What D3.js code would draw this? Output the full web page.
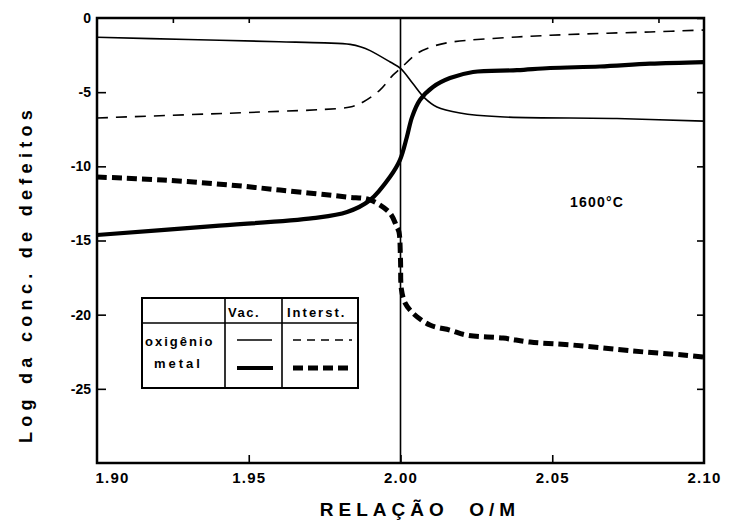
<!DOCTYPE html>
<html>
<head>
<meta charset="utf-8">
<script src="https://cdn.jsdelivr.net/npm/d3@7/dist/d3.min.js"></script>
<style>
  html, body { margin: 0; padding: 0; background: #fff; }
  svg { display: block; }
  text { font-family: "Liberation Sans", "DejaVu Sans", sans-serif; font-weight: bold; fill: #000; }
</style>
</head>
<body>
<svg id="chart" width="732" height="523"></svg>
<script>
// Defect concentrations (log) vs O/M ratio at 1600 °C
const oxVacX = [1.90, 1.93, 1.96, 1.975, 1.9834, 1.987, 1.990, 1.9966, 2.000, 2.004, 2.008, 2.012, 2.0196, 2.0328, 2.0713, 2.10];
const oxVacY = [-1.30, -1.45, -1.60, -1.68, -1.78, -1.95, -2.20, -2.97, -3.40, -4.40, -5.40, -6.00, -6.40, -6.66, -6.78, -6.95];

const oxIntX = [1.90, 1.9537, 1.975, 1.9834, 1.9877, 1.9932, 1.9975, 2.000, 2.0054, 2.0097, 2.0163, 2.0384, 2.0601, 2.0822, 2.10];
const oxIntY = [-6.74, -6.34, -6.16, -6.00, -5.66, -4.86, -3.85, -3.40, -2.40, -1.98, -1.64, -1.28, -1.08, -0.94, -0.81];

const meVacX = [1.90, 1.9382, 1.9712, 1.9824, 1.990, 1.9965, 1.9998, 2.0021, 2.0038, 2.0064, 2.0107, 2.0163, 2.0239, 2.0384, 2.0493, 2.0657, 2.0822, 2.10];
const meVacY = [-14.63, -14.03, -13.49, -13.08, -12.27, -10.72, -9.58, -8.02, -6.68, -5.53, -4.65, -4.05, -3.64, -3.52, -3.37, -3.27, -3.08, -2.97];

const meIntX = [1.90, 1.9217, 1.9438, 1.9603, 1.9824, 1.990, 1.9965, 1.9988, 1.9995, 2.0000, 2.0003, 2.0015, 2.0041, 2.0097, 2.0163, 2.0219, 2.0338, 2.0427, 2.0568, 2.0766, 2.0931, 2.10];
const meIntY = [-10.72, -10.92, -11.26, -11.60, -12.07, -12.27, -13.15, -14.09, -14.43, -16.30, -18.30, -19.20, -19.90, -20.70, -21.04, -21.38, -21.58, -21.85, -22.05, -22.45, -22.72, -22.86];

const xTicks = [1.90, 1.95, 2.00, 2.05, 2.10];
const xTickLabels = ["1.90", "1.95", "2.00", "2.05", "2.10"];
const yTicks = [0, -5, -10, -15, -20, -25];
const yTickLabels = ["0", "-5", "-10", "-15", "-20", "-25"];

const legendRows = ["oxigênio", "metal"];
const legendCols = ["Vac.", "Interst."];

const svg = d3.select("#chart");
const L = 97, R = 704, T = 18, B = 463;

const x = d3.scaleLinear().domain([1.90, 2.10]).range([L, R]);
const y = d3.scaleLinear().domain([-30, 0]).range([B, T]);

const line = d3.line().x(d => x(d[0])).y(d => y(d[1])).curve(d3.curveCatmullRom.alpha(0.5));
const zip = (a, b) => a.map((v, i) => [v, b[i]]);

const styles = {
  oxVac: { w: 1.6, dash: null },
  oxInt: { w: 1.6, dash: "11,8" },
  meVac: { w: 4.2, dash: null },
  meInt: { w: 5, dash: "10,5" }
};

// frame
svg.append("rect").attr("x", L).attr("y", T).attr("width", R - L).attr("height", B - T)
  .attr("fill", "none").attr("stroke", "#000").attr("stroke-width", 2.5);

// stoichiometric line at O/M = 2.00
svg.append("line").attr("x1", x(2.00)).attr("x2", x(2.00)).attr("y1", T).attr("y2", B)
  .attr("stroke", "#000").attr("stroke-width", 1.6);

// axes with inward ticks
const gx = svg.append("g").attr("transform", `translate(0,${B})`)
  .call(d3.axisBottom(x).tickValues(xTicks).tickSize(-8).tickPadding(9)
    .tickFormat((d, i) => xTickLabels[i]));
const gy = svg.append("g").attr("transform", `translate(${L},0)`)
  .call(d3.axisLeft(y).tickValues(yTicks).tickSize(-9).tickPadding(6)
    .tickFormat((d, i) => yTickLabels[i]));
const gr = svg.append("g").attr("transform", `translate(${R},0)`)
  .call(d3.axisRight(y).tickValues(yTicks).tickSize(-7).tickFormat(""));
const gt = svg.append("g").attr("transform", `translate(0,${T})`)
  .call(d3.axisTop(x).tickValues([1.925, 1.95, 2.05, 2.085]).tickSize(-5).tickFormat(""));

[gx, gy, gr, gt].forEach(g => {
  g.select(".domain").remove();
  g.selectAll(".tick line").attr("stroke", "#000").attr("stroke-width", 1.6);
  g.selectAll(".tick text").attr("font-size", 14).attr("font-family", "Liberation Sans, sans-serif")
    .attr("font-weight", "bold").attr("fill", "#000");
});
gx.selectAll(".tick text").attr("font-size", 15).attr("letter-spacing", 1.2);
gx.selectAll(".tick").filter(d => d === 1.90 || d === 2.10).select("line").remove();
gx.selectAll(".tick text").filter(d => d === 1.90).attr("text-anchor", "start").attr("dx", -2);
gy.selectAll(".tick").filter(d => d === 0).select("line").remove();

// curves
const series = [
  [zip(oxVacX, oxVacY), styles.oxVac],
  [zip(oxIntX, oxIntY), styles.oxInt],
  [zip(meVacX, meVacY), styles.meVac],
  [zip(meIntX, meIntY), styles.meInt]
];
series.forEach(([pts, st]) => {
  svg.append("path").attr("d", line(pts)).attr("fill", "none").attr("stroke", "#000")
    .attr("stroke-width", st.w).attr("stroke-dasharray", st.dash)
    .attr("stroke-linejoin", "round");
});

// temperature label
svg.append("text").attr("x", 597).attr("y", 207).attr("text-anchor", "middle")
  .attr("font-size", 14).attr("letter-spacing", 1.2).text("1600°C");

// axis titles
svg.append("text").attr("x", 420).attr("y", 516).attr("text-anchor", "middle")
  .attr("font-size", 19).attr("letter-spacing", 5).style("white-space", "pre")
  .text("RELAÇÃO  O/M");
svg.append("text").attr("transform", "translate(32,274) rotate(-90)").attr("text-anchor", "middle")
  .attr("font-size", 18).attr("letter-spacing", 5.3).text("Log da conc. de defeitos");

// legend table
const lg = svg.append("g");
const tx0 = 142, tx1 = 225, tx2 = 282, tx3 = 358, ty0 = 298, ty1 = 323, ty2 = 388;
lg.append("rect").attr("x", tx0).attr("y", ty0).attr("width", tx3 - tx0).attr("height", ty2 - ty0)
  .attr("fill", "#fff").attr("stroke", "#000").attr("stroke-width", 2);
[[tx0, ty1, tx3, ty1], [tx1, ty0, tx1, ty2], [tx2, ty0, tx2, ty2]].forEach(s =>
  lg.append("line").attr("x1", s[0]).attr("y1", s[1]).attr("x2", s[2]).attr("y2", s[3])
    .attr("stroke", "#000").attr("stroke-width", 1.6));
lg.append("text").attr("x", tx1 + 3).attr("y", 317).attr("font-size", 13).attr("letter-spacing", 1.5).text(legendCols[0]);
lg.append("text").attr("x", tx2 + 5).attr("y", 317).attr("font-size", 13).attr("letter-spacing", 2).text(legendCols[1]);
lg.append("text").attr("x", tx0 + 3).attr("y", 346).attr("font-size", 13).attr("letter-spacing", 2).text(legendRows[0]);
lg.append("text").attr("x", tx0 + 12).attr("y", 368).attr("font-size", 13).attr("letter-spacing", 3).text(legendRows[1]);
const sample = (x1, x2, yy, st) => lg.append("line").attr("x1", x1).attr("x2", x2).attr("y1", yy).attr("y2", yy)
  .attr("stroke", "#000").attr("stroke-width", st.w).attr("stroke-dasharray", st.dash);
sample(237, 272, 340, styles.oxVac);
sample(293, 352, 340, { w: 1.6, dash: "8,6" });
sample(237, 273, 368, styles.meVac);
sample(293, 352, 368, { w: 5, dash: "10,5" });
</script>
</body>
</html>
